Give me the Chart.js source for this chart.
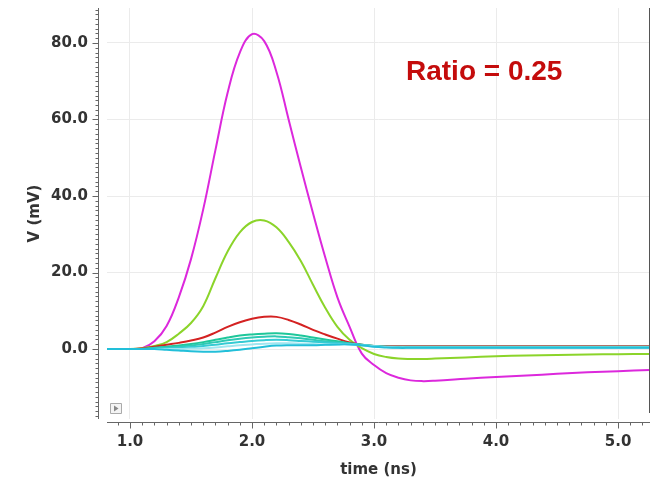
<!DOCTYPE html>
<html>
<head>
<meta charset="utf-8">
<script src="https://cdn.jsdelivr.net/npm/chart.js@4"></script>
<style>
html,body{margin:0;padding:0;background:#fff;}
#wrap{width:653px;height:479px;position:relative;}
</style>
</head>
<body>
<div id="wrap"><canvas id="c" width="653" height="479"></canvas></div>
<script>
// ---- data (time in ns, voltage in mV) ----
const time = [0.81, 1.0, 1.1, 1.2, 1.3, 1.4, 1.5, 1.6, 1.7, 1.8, 1.9, 2.0, 2.1, 2.2, 2.3, 2.4, 2.5, 2.6, 2.7, 2.8, 2.9, 3.0, 3.1, 3.2, 3.3, 3.4, 3.5, 3.75, 4.0, 4.25, 4.5, 4.75, 5.0, 5.26];
const magenta = [0, 0, 0.2, 2, 6, 13.5, 23.5, 36.5, 52, 67, 77.5, 82.3, 80.5, 72.5, 60, 47.5, 35.5, 24, 13.5, 5.8, -1.2, -4.2, -6.3, -7.5, -8.2, -8.4, -8.3, -7.8, -7.3, -6.9, -6.5, -6.1, -5.8, -5.5];
const green = [0, 0, 0.2, 0.8, 1.8, 4.0, 6.8, 11.2, 18.5, 25.5, 30.5, 33.2, 33.6, 31.8, 28, 23, 16.8, 10.8, 5.8, 2.4, 0.2, -1.3, -2.1, -2.5, -2.6, -2.6, -2.5, -2.2, -1.9, -1.7, -1.55, -1.45, -1.35, -1.3];
const red = [0, 0, 0.1, 0.6, 1.1, 1.6, 2.2, 3.0, 4.3, 5.8, 7.0, 7.9, 8.4, 8.4, 7.6, 6.4, 5.0, 3.8, 2.7, 1.7, 1.1, 0.8, 0.7, 0.7, 0.7, 0.7, 0.7, 0.7, 0.7, 0.7, 0.7, 0.7, 0.7, 0.7];
const teal1 = [0, 0, 0, 0.3, 0.6, 0.9, 1.3, 1.8, 2.4, 3.0, 3.5, 3.8, 4.0, 4.1, 3.9, 3.5, 3.0, 2.5, 2.0, 1.5, 1.1, 0.8, 0.6, 0.6, 0.6, 0.6, 0.6, 0.6, 0.6, 0.6, 0.6, 0.6, 0.6, 0.6];
const teal2 = [0, 0, 0, 0.2, 0.4, 0.6, 0.9, 1.3, 1.8, 2.3, 2.7, 3.0, 3.2, 3.3, 3.1, 2.8, 2.4, 2.0, 1.7, 1.4, 1.1, 0.8, 0.6, 0.5, 0.5, 0.5, 0.5, 0.5, 0.5, 0.5, 0.5, 0.5, 0.5, 0.5];
const teal3 = [0, 0, 0, 0.1, 0.2, 0.3, 0.5, 0.8, 1.1, 1.5, 1.8, 2.1, 2.3, 2.4, 2.3, 2.1, 1.9, 1.7, 1.5, 1.3, 1.0, 0.7, 0.5, 0.4, 0.4, 0.4, 0.4, 0.4, 0.4, 0.4, 0.4, 0.4, 0.4, 0.4];
const teal4 = [0, 0, 0, 0, 0, 0, 0.1, 0.2, 0.4, 0.7, 1.0, 1.2, 1.4, 1.5, 1.5, 1.4, 1.3, 1.2, 1.2, 1.2, 1.0, 0.7, 0.5, 0.4, 0.4, 0.4, 0.4, 0.4, 0.4, 0.4, 0.4, 0.4, 0.4, 0.4];
const teal5 = [0, 0, 0, 0, -0.2, -0.4, -0.6, -0.7, -0.7, -0.5, -0.2, 0.2, 0.6, 0.9, 1.0, 1.0, 1.0, 1.1, 1.2, 1.2, 1.0, 0.6, 0.4, 0.3, 0.3, 0.3, 0.3, 0.3, 0.3, 0.3, 0.3, 0.3, 0.3, 0.3];
const xTickValues = [1, 2, 3, 4, 5];
const yTickValues = [0, 20, 40, 60, 80];
const annotationText = "Ratio = 0.25";

const series = [
  {name: 'teal5', data: teal5, color: '#22bfd9'},
  {name: 'teal4', data: teal4, color: '#9fe6f0'},
  {name: 'teal3', data: teal3, color: '#34cbd3'},
  {name: 'teal2', data: teal2, color: '#2ec9b4'},
  {name: 'teal1', data: teal1, color: '#1ec79a'},
  {name: 'red', data: red, color: '#d42222'},
  {name: 'green', data: green, color: '#8bd42a'},
  {name: 'magenta', data: magenta, color: '#dc28dc'}
];

const axesPlugin = {
  id: 'customAxes',
  afterDraw(chart) {
    const ctx = chart.ctx;
    const xs = chart.scales.x, ys = chart.scales.y;
    const ca = chart.chartArea;
    ctx.save();
    ctx.strokeStyle = '#666';
    ctx.lineWidth = 1;
    const ax = 98.5;
    ctx.beginPath();
    ctx.moveTo(ax, ca.top); ctx.lineTo(ax, ca.bottom);
    ctx.stroke();
    ctx.beginPath();
    for (let v = -17.5; v <= ys.max; v += 1.25) {
      const py = Math.round(ys.getPixelForValue(v)) + 0.5;
      const major = Math.abs(v % 20) < 1e-6;
      ctx.moveTo(ax, py); ctx.lineTo(ax - (major ? 6 : 3), py);
    }
    ctx.stroke();
    const ay = 422.5;
    ctx.beginPath();
    ctx.moveTo(ca.left, ay); ctx.lineTo(ca.right, ay);
    ctx.stroke();
    ctx.beginPath();
    for (let i = 9; i <= 52; i++) {
      const v = i / 10;
      const px = Math.round(xs.getPixelForValue(v)) + 0.5;
      if (px < ca.left || px > ca.right) continue;
      const major = i % 10 === 0;
      ctx.moveTo(px, ay); ctx.lineTo(px, ay + (major ? 6 : 3));
    }
    ctx.stroke();
    ctx.strokeStyle = '#555';
    ctx.beginPath();
    ctx.moveTo(ca.right - 0.5, ca.top); ctx.lineTo(ca.right - 0.5, ca.bottom - 6);
    ctx.stroke();
    ctx.strokeStyle = '#aaa';
    ctx.fillStyle = '#f4f4f4';
    ctx.beginPath();
    ctx.rect(110.5, 403.5, 11, 10);
    ctx.fill(); ctx.stroke();
    ctx.fillStyle = '#888';
    ctx.beginPath();
    ctx.moveTo(114, 405.5); ctx.lineTo(114, 411.5); ctx.lineTo(118.5, 408.5); ctx.closePath();
    ctx.fill();
    ctx.fillStyle = '#c40c0c';
    ctx.font = 'bold 28px "Liberation Sans", Arial, sans-serif';
    ctx.textBaseline = 'alphabetic';
    ctx.textAlign = 'left';
    ctx.fillText(annotationText, 406, 80);
    ctx.restore();
  }
};

const tickFont = {family: '"DejaVu Sans", sans-serif', size: 15, weight: 'bold'};

new Chart(document.getElementById('c'), {
  type: 'line',
  data: {
    datasets: series.map(s => ({
      label: s.name,
      data: time.map((t, i) => ({x: t, y: s.data[i]})),
      borderColor: s.color,
      borderWidth: 2,
      pointRadius: 0,
      fill: false,
      tension: 0.4
    }))
  },
  options: {
    responsive: false,
    animation: false,
    events: [],
    layout: {padding: {top: 8, right: 3, left: 0, bottom: 0}},
    plugins: {legend: {display: false}, tooltip: {enabled: false}},
    scales: {
      x: {
        type: 'linear',
        min: 0.8115,
        max: 5.262,
        afterBuildTicks: s => { s.ticks = xTickValues.map(v => ({value: v})); },
        afterFit: s => { s.height = 60; s.paddingLeft = 0; s.paddingRight = 0; },
        grid: {color: '#ebebeb', lineWidth: 1, drawTicks: false},
        border: {display: false},
        ticks: {
          padding: 14,
          color: '#333',
          font: tickFont,
          maxRotation: 0,
          autoSkip: false,
          callback: v => Number(v).toFixed(1)
        },
        title: {
          display: true,
          text: 'time (ns)',
          color: '#333',
          font: {family: '"DejaVu Sans", sans-serif', size: 15, weight: 'bold'},
          padding: {top: 2, bottom: 0}
        }
      },
      y: {
        type: 'linear',
        min: -18.3,
        max: 89.15,
        afterBuildTicks: s => { s.ticks = yTickValues.map(v => ({value: v})); },
        afterFit: s => { s.width = 107; s.paddingTop = 0; s.paddingBottom = 0; },
        grid: {color: '#ebebeb', lineWidth: 1, drawTicks: false},
        border: {display: false},
        ticks: {
          padding: 19,
          color: '#333',
          font: tickFont,
          autoSkip: false,
          callback: v => Number(v).toFixed(1)
        },
        title: {
          display: true,
          text: 'V (mV)',
          color: '#333',
          font: {family: '"DejaVu Sans", sans-serif', size: 15, weight: 'bold'},
          padding: {top: 26, bottom: 0}
        }
      }
    }
  },
  plugins: [axesPlugin]
});
</script>
</body>
</html>
